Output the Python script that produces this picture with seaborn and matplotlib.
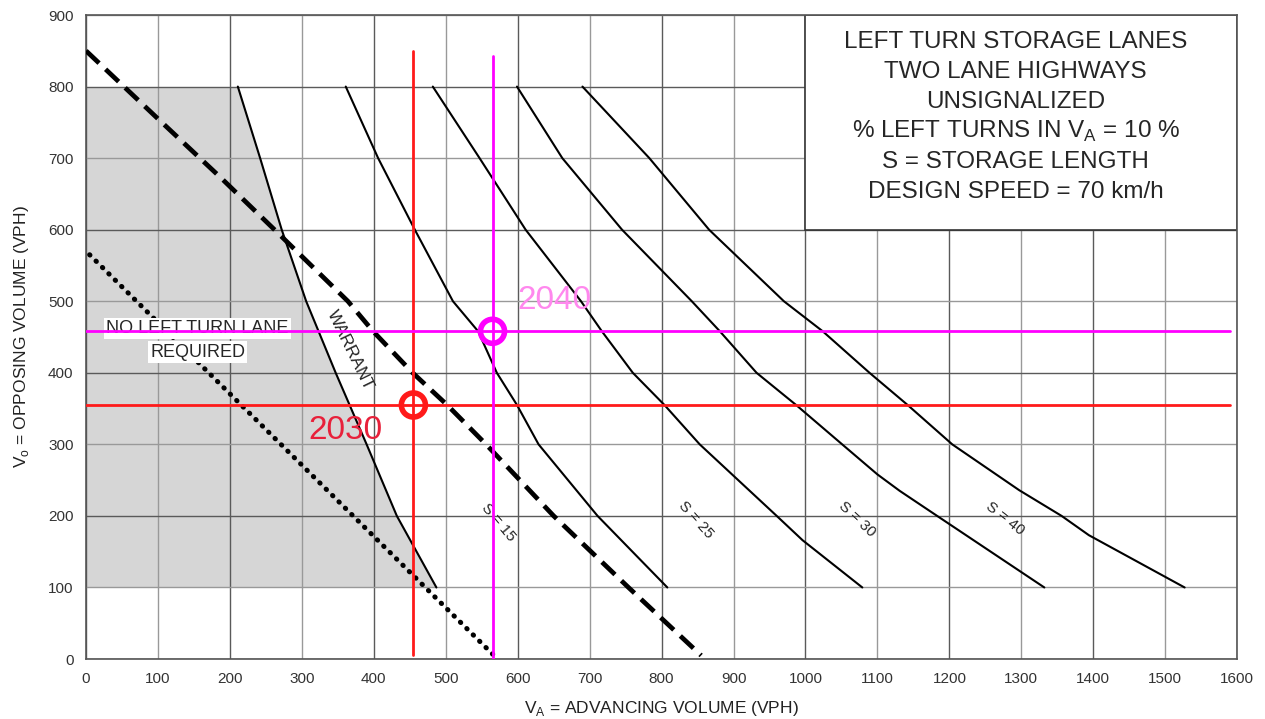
import matplotlib
matplotlib.use("Agg")
import matplotlib.pyplot as plt
import seaborn as sns
from matplotlib.patches import Rectangle

sns.set_style("white")
plt.rcParams['font.family'] = ['Liberation Sans', 'DejaVu Sans']

# curves: advancing volume (va) vs opposing volume (vo), VPH
warrant_vo = [800, 700, 600, 500, 400, 300, 200, 100]
warrant_va = [211, 242, 272, 306, 347, 390, 432, 487]

s15_vo = [800, 700, 600, 500, 458, 400, 355, 300, 200, 100]
s15_va = [361, 406, 457, 510, 545, 571, 599, 629, 711, 808]

s25_vo = [800, 700, 600, 500, 458, 400, 355, 300, 200, 166, 100]
s25_va = [482, 547, 611, 688, 717, 760, 804, 853, 960, 996, 1079]

s30_vo = [800, 700, 600, 500, 458, 400, 355, 300, 258, 235, 200, 100]
s30_va = [599, 662, 745, 842, 881, 932, 987, 1051, 1100, 1131, 1183, 1332]

s40_vo = [800, 700, 600, 500, 458, 400, 355, 300, 236, 200, 173, 100]
s40_va = [690, 783, 866, 970, 1024, 1089, 1142, 1204, 1297, 1356, 1394, 1527]

dashed_va = [0, 100, 188, 262, 364, 399, 454, 502, 556, 650, 754, 855]
dashed_vo = [850, 755, 672, 600, 500, 458, 400, 355, 300, 200, 100, 5]
dotted_va = [5, 572]
dotted_vo = [565, 0]

# design years: (advancing, opposing)
years = ['2030', '2040']
year_va = [455, 565]
year_vo = [355, 458]
year_colors = ['#ff1a1a', '#ff00ff']
label_colors = ['#e8203a', '#ff88ee']

info_lines = ["LEFT TURN STORAGE LANES", "TWO LANE HIGHWAYS", "UNSIGNALIZED",
              r"% LEFT TURNS IN V$_\mathregular{A}$ = 10 %", "S = STORAGE LENGTH",
              "DESIGN SPEED = 70 km/h"]

fig = plt.figure(figsize=(12.65, 7.19), dpi=100)
ax = fig.add_axes([0.068, 0.0834, 0.91, 0.8957])

# shaded "no lane" area
ax.fill_betweenx(warrant_vo, 0, warrant_va, color='#d6d6d6', lw=0, zorder=0.3)

for va, vo in [(warrant_va, warrant_vo), (s15_va, s15_vo), (s25_va, s25_vo),
               (s30_va, s30_vo), (s40_va, s40_vo)]:
    sns.lineplot(x=va, y=vo, sort=False, estimator=None, color='black', lw=1.5,
                 ax=ax, zorder=3)

sns.lineplot(x=dashed_va, y=dashed_vo, sort=False, estimator=None, color='black',
             lw=3.4, ax=ax, zorder=3).lines[-1].set_dashes([3.8, 1.9])
ln = sns.lineplot(x=dotted_va, y=dotted_vo, sort=False, estimator=None, color='black',
                  lw=3.6, ax=ax, zorder=3).lines[-1]
ln.set_dashes([0.1, 1.7])
ln.set_dash_capstyle('round')

# design year lines
for i in range(2):
    c = year_colors[i]
    ax.plot([0, 1590], [year_vo[i], year_vo[i]], color=c, lw=2, zorder=5)
    ax.plot([year_va[i], year_va[i]], [5 - i * 5, 850 - i * 7], color=c, lw=2, zorder=5)
    sns.scatterplot(x=[year_va[i]], y=[year_vo[i]], marker='o', s=300, facecolor='none',
                    edgecolor=c, linewidth=4, ax=ax, zorder=6)
ax.text(360, 320, years[0], color=label_colors[0], fontsize=24, ha='center', va='center', zorder=6)
ax.text(651, 501, years[1], color=label_colors[1], fontsize=24, ha='center', va='center', zorder=6)

# labels
box = dict(facecolor='white', edgecolor='none', pad=1.5)
ax.text(155, 462, "NO LEFT TURN LANE", fontsize=13, ha='center', va='center', bbox=box, zorder=4)
ax.text(155, 429, "REQUIRED", fontsize=13, ha='center', va='center', bbox=box, zorder=4)
ax.text(367, 432, "WARRANT", fontsize=12.5, rotation=-64, ha='center', va='center', zorder=4)
for lab, x, y, r in [('S = 15', 573, 191, -50), ('S = 25', 847, 194, -48),
                     ('S = 30', 1072, 195, -43), ('S = 40', 1277, 197, -38)]:
    ax.text(x, y, lab, fontsize=11, rotation=r, ha='center', va='center', zorder=4)

# info box
ax.add_patch(Rectangle((1000, 600), 600, 300, facecolor='white', edgecolor='#333333',
                       lw=1.2, zorder=2))
for k, line in enumerate(info_lines):
    ax.text(1292, 863 - k * 42, line, fontsize=17.5, ha='center', va='center', zorder=4)

ax.set_xlim(0, 1600)
ax.set_ylim(0, 900)
ax.set_xticks(range(0, 1601, 100))
ax.set_yticks(range(0, 901, 100))
ax.grid(True, color='#5a5a5a', lw=1)
ax.set_axisbelow(True)
for gl in ax.get_xgridlines()[1::2] + ax.get_ygridlines()[1::2]:
    gl.set_color('#999999')
ax.tick_params(length=0, pad=9, labelsize=11, colors='#333333')
for s in ax.spines.values():
    s.set_color('#555555')
    s.set_linewidth(1.2)
ax.set_xlabel(r"V$_\mathregular{A}$ = ADVANCING VOLUME (VPH)", fontsize=12.5,
              color='#222222', labelpad=10)
ax.set_ylabel(r"V$_\mathregular{o}$ = OPPOSING VOLUME (VPH)", fontsize=12.5,
              color='#222222', labelpad=12)

fig.savefig("out.png", dpi=100)
